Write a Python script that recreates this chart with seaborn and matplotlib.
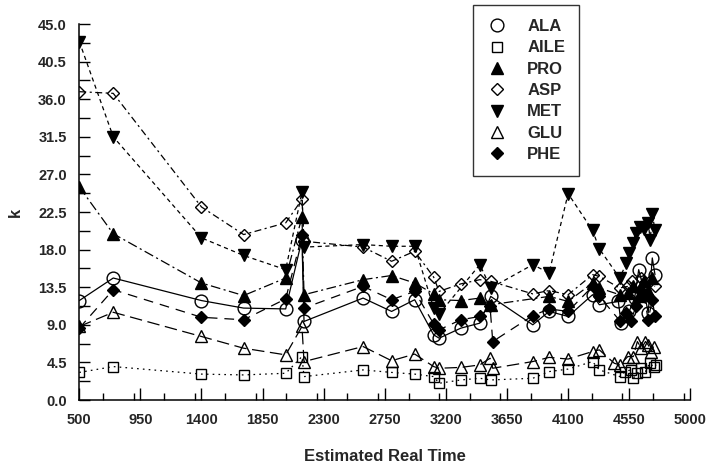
import matplotlib
matplotlib.use("Agg")
import matplotlib.pyplot as plt
import seaborn as sns
import numpy as np
import pandas as pd
from matplotlib.lines import Line2D
from matplotlib.ticker import MultipleLocator, FormatStrFormatter

# ---------------- data ----------------
ala_x = [500, 750, 1400, 1710, 2020, 2140, 2155, 2590, 2800, 2970, 3110, 3150, 3310, 3450, 3530,
         3840, 3960, 4100, 4280, 4330, 4470, 4490, 4550, 4590, 4620, 4660, 4690, 4720, 4740]
ala_y = [11.9, 14.6, 11.9, 11.0, 10.9, 19.2, 9.4, 12.2, 10.6, 12.0, 7.8, 7.4, 8.6, 9.2, 12.4,
         9.0, 10.6, 10.0, 12.6, 11.4, 11.8, 9.2, 10.6, 12.2, 15.6, 13.0, 10.4, 17.0, 15.0]

aile_x = [500, 750, 1400, 1710, 2020, 2140, 2155, 2590, 2800, 2970, 3110, 3150, 3310, 3450, 3530,
          3840, 3960, 4100, 4280, 4330, 4480, 4520, 4560, 4580, 4610, 4640, 4670, 4700, 4730, 4750]
aile_y = [3.3, 4.0, 3.1, 3.0, 3.2, 5.2, 2.8, 3.6, 3.3, 3.1, 2.8, 2.0, 2.4, 2.6, 2.4,
          2.6, 3.4, 3.7, 4.6, 3.6, 2.8, 3.4, 3.6, 2.6, 3.2, 3.8, 3.4, 4.4, 4.0, 4.2]

pro_x = [500, 750, 1400, 1710, 2020, 2140, 2155, 2590, 2800, 2970, 3110, 3150, 3310, 3450, 3530,
         3960, 4100, 4280, 4330, 4480, 4540, 4580, 4620, 4660, 4690, 4720]
pro_y = [25.5, 19.9, 14.0, 12.5, 14.6, 21.9, 12.6, 14.4, 14.9, 14.0, 12.7, 12.0, 11.9, 12.2, 11.4,
         12.4, 11.8, 14.0, 13.4, 12.6, 12.8, 13.6, 12.4, 14.2, 13.0, 14.6]

asp_x = [500, 750, 1400, 1710, 2020, 2140, 2155, 2590, 2800, 2970, 3110, 3150, 3310, 3450, 3530,
         3840, 3960, 4100, 4280, 4330, 4480, 4540, 4570, 4610, 4640, 4680, 4700, 4740]
asp_y = [36.9, 36.7, 23.1, 19.8, 21.2, 24.0, 19.0, 18.3, 16.6, 17.8, 14.7, 13.0, 13.9, 14.4, 14.2,
         12.7, 13.1, 12.6, 15.0, 14.8, 13.4, 13.6, 14.2, 12.8, 14.6, 12.6, 14.2, 13.6]

met_x = [500, 750, 1400, 1710, 2020, 2140, 2155, 2590, 2800, 2970, 3110, 3150, 3450, 3530,
         3840, 3960, 4100, 4280, 4330, 4480, 4530, 4550, 4575, 4600, 4630, 4660, 4690, 4705, 4720, 4740]
met_y = [42.9, 31.5, 19.4, 17.3, 15.6, 24.9, 18.3, 18.6, 18.4, 18.4, 11.0, 10.3, 16.2, 13.4,
         16.2, 15.2, 24.7, 20.3, 18.1, 14.6, 16.4, 17.6, 18.8, 20.0, 20.7, 20.5, 21.2, 19.1, 22.3, 20.3]

glu_x = [500, 750, 1400, 1710, 2020, 2140, 2155, 2590, 2800, 2970, 3110, 3150, 3310, 3450, 3525, 3545,
         3840, 3960, 4100, 4280, 4330, 4440, 4480, 4540, 4580, 4610, 4640, 4670, 4690, 4710, 4730]
glu_y = [8.8, 10.5, 7.6, 6.2, 5.4, 8.8, 4.6, 6.4, 4.7, 5.5, 4.0, 3.8, 3.9, 4.2, 5.0, 3.8,
         4.6, 5.1, 4.9, 5.8, 6.0, 4.4, 4.2, 5.2, 5.2, 7.0, 6.2, 7.0, 6.6, 5.8, 6.4]

phe_x = [500, 750, 1400, 1710, 2020, 2140, 2155, 2590, 2800, 2970, 3110, 3150, 3310, 3450, 3525, 3545,
         3840, 3960, 4100, 4280, 4330, 4480, 4530, 4560, 4600, 4630, 4660, 4690, 4720, 4740]
phe_y = [8.6, 13.2, 9.9, 9.6, 12.1, 19.7, 11.0, 13.6, 12.0, 13.0, 9.1, 8.4, 9.6, 10.0, 11.2, 7.0,
         10.1, 10.9, 10.6, 13.6, 12.4, 9.5, 10.4, 9.4, 11.2, 13.2, 12.4, 9.6, 12.0, 10.0]

names = ["ALA", "AILE", "PRO", "ASP", "MET", "GLU", "PHE"]
xs = [ala_x, aile_x, pro_x, asp_x, met_x, glu_x, phe_x]
ys = [ala_y, aile_y, pro_y, asp_y, met_y, glu_y, phe_y]

x_ticks = [500, 950, 1400, 1850, 2300, 2750, 3200, 3650, 4100, 4550, 5000]
y_ticks = [0.0, 4.5, 9.0, 13.5, 18.0, 22.5, 27.0, 31.5, 36.0, 40.5, 45.0]

# ---------------- style ----------------
sns.set_style("ticks")
plt.rcParams["font.family"] = ["Liberation Sans", "DejaVu Sans"]
plt.rcParams["font.weight"] = "bold"
plt.rcParams["lines.scale_dashes"] = False

styles = {
    "ALA":  dict(marker="o", fill=False, ls="-", ms=9.2),
    "AILE": dict(marker="s", fill=False, ls=(0, (1.2, 3.0)), ms=7.2),
    "PRO":  dict(marker="^", fill=True, ls=(0, (7, 2.5, 1.5, 2.5)), ms=8.8),
    "ASP":  dict(marker="D", fill=False, ls=(0, (5, 2.5, 1.5, 2.5)), ms=6.6),
    "MET":  dict(marker="v", fill=True, ls=(0, (3, 2.5)), ms=8.8),
    "GLU":  dict(marker="^", fill=False, ls=(0, (9, 4)), ms=8.8),
    "PHE":  dict(marker="D", fill=True, ls=(0, (7, 5)), ms=6.6),
}

fig = plt.figure(figsize=(7.07, 4.72), dpi=100)
ax = fig.add_axes([79.3 / 707, 1 - 400 / 472, 611 / 707, 376 / 472])

for name, x, y in zip(names, xs, ys):
    st = styles[name]
    df = pd.DataFrame({"x": x, "y": y})
    sns.lineplot(data=df, x="x", y="y", ax=ax, sort=False, estimator=None,
                 color="black", lw=0.9, linestyle=st["ls"], marker=st["marker"],
                 markersize=st["ms"], markeredgewidth=1.0, markeredgecolor="black",
                 markerfacecolor="black" if st["fill"] else "none")

ax.set_xlim(500, 5000)
ax.set_ylim(0, 45)
ax.set_xticks(x_ticks)
ax.set_yticks(y_ticks)
ax.xaxis.set_minor_locator(MultipleLocator(225))
ax.yaxis.set_minor_locator(MultipleLocator(2.25))
ax.yaxis.set_major_formatter(FormatStrFormatter("%.1f"))
ax.tick_params(axis="both", which="both", direction="in", width=1.0, color="black")
ax.tick_params(axis="x", which="major", length=9, pad=9, labelsize=10.5)
ax.tick_params(axis="x", which="minor", length=5)
ax.tick_params(axis="y", which="major", length=8, pad=9, labelsize=10.5)
ax.tick_params(axis="y", which="minor", length=8)
for lab in ax.get_xticklabels() + ax.get_yticklabels():
    lab.set_fontweight("bold")

sns.despine(ax=ax)
for s in ["left", "bottom"]:
    ax.spines[s].set_linewidth(1.1)
    ax.spines[s].set_color("black")

ax.set_xlabel("Estimated Real Time", fontsize=12, fontweight="bold", labelpad=16)
ax.set_ylabel("k", fontsize=12, fontweight="bold", labelpad=11)

handles = []
for name in names:
    st = styles[name]
    handles.append(Line2D([], [], color="black", ls="none", marker=st["marker"],
                          markersize=st["ms"], markeredgewidth=1.0, markeredgecolor="black",
                          markerfacecolor="black" if st["fill"] else "none"))
leg = ax.legend(handles, names, loc="upper left", bbox_to_anchor=(473 / 707, 1 - 5 / 472),
                bbox_transform=fig.transFigure, frameon=True, fancybox=False,
                edgecolor="black", borderpad=0.85, borderaxespad=0.0, handlelength=1.2,
                handletextpad=1.2, labelspacing=0.38, prop={"weight": "bold", "size": 12})
leg.get_frame().set_linewidth(1.0)

fig.savefig("out.png", dpi=100)
